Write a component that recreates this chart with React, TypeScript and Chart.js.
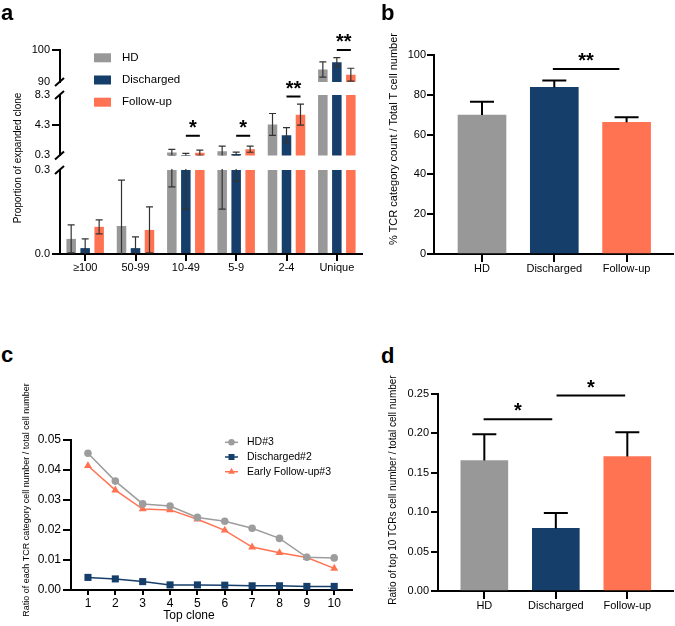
import React, { useEffect, useRef } from 'react';
import { Chart, registerables } from 'chart.js';
Chart.register(...registerables);

const FONT = "'Liberation Sans', Arial, Helvetica, sans-serif";
Chart.defaults.font.family = FONT;
Chart.defaults.color = '#000';

const GRAY = '#989898';
const NAVY = '#163e6b';
const CORAL = '#ff7353';

// ---------- Panel a data ----------
const aCategories = ['≥100', '50-99', '10-49', '5-9', '2-4', 'Unique'];
const aSeries = ['HD', 'Discharged', 'Follow-up'];
const aHD = [0.054, 0.1, 0.67, 0.85, 4.4, 93.9];
const aHDsd = [0.05, 0.164, 0.43, 0.69, 1.45, 2.4];
const aDis = [0.021, 0.021, 0.36, 0.5, 2.98, 96.2];
const aDisSd = [0.033, 0.04, 0.2, 0.24, 1.0, 1.4];
const aFol = [0.097, 0.086, 0.66, 1.12, 5.7, 92.3];
const aFolSd = [0.025, 0.082, 0.34, 0.4, 1.4, 2.0];
const aLowTicks = [0, 0.3];
const aLowTickLabels = ['0.0', '0.3'];
const aMidTicks = [0.3, 4.3, 8.3];
const aMidTickLabels = ['0.3', '4.3', '8.3'];
const aTopTicks = [90, 100];
const aTopTickLabels = ['90', '100'];
const aSigCategories = ['10-49', '5-9', '2-4', 'Unique'];
const aSigLevels = [2.9, 2.9, 8.1, 100];
const aSigLabels = ['*', '*', '**', '**'];

// ---------- Panel b data ----------
const bCategories = ['HD', 'Discharged', 'Follow-up'];
const bMeans = [69.8, 83.7, 66.2];
const bSd = [6.7, 3.5, 2.5];
const bTicks = [0, 20, 40, 60, 80, 100];
const bTickLabels = ['0', '20', '40', '60', '80', '100'];
const bSigFrom = [0.98];
const bSigTo = [1.9];
const bSigLevels = [93];
const bSigLabels = ['**'];

// ---------- Panel c data ----------
const cClones = [1, 2, 3, 4, 5, 6, 7, 8, 9, 10];
const cSeries = ['HD#3', 'Discharged#2', 'Early Follow-up#3'];
const cHD = [0.0456, 0.0363, 0.0287, 0.028, 0.0242, 0.0229, 0.0206, 0.0172, 0.0109, 0.0107];
const cDis = [0.0042, 0.0037, 0.0028, 0.0017, 0.0017, 0.0016, 0.0014, 0.0014, 0.0012, 0.0012];
const cFol = [0.0414, 0.0333, 0.027, 0.0267, 0.0236, 0.0199, 0.0143, 0.0124, 0.0108, 0.0072];
const cTicks = [0, 0.01, 0.02, 0.03, 0.04, 0.05];
const cTickLabels = ['0.00', '0.01', '0.02', '0.03', '0.04', '0.05'];

// ---------- Panel d data ----------
const dCategories = ['HD', 'Discharged', 'Follow-up'];
const dMeans = [0.1655, 0.0794, 0.1706];
const dSd = [0.0335, 0.0195, 0.031];
const dTicks = [0, 0.05, 0.1, 0.15, 0.2, 0.25];
const dTickLabels = ['0.00', '0.05', '0.10', '0.15', '0.20', '0.25'];
const dSigFrom = [-0.01, 1.01];
const dSigTo = [0.95, 1.97];
const dSigLevels = [0.218, 0.248];
const dSigLabels = ['*', '*'];

// ---------- helpers ----------
function baseOptions(padding: any) {
  return {
    responsive: false,
    maintainAspectRatio: false,
    animation: false,
    devicePixelRatio: 1,
    events: [],
    layout: { padding },
    plugins: { legend: { display: false }, tooltip: { enabled: false }, title: { display: false } },
  };
}

function valueAxis(o: any) {
  const breaks: number[] = o.breaks || [];
  return {
    type: 'linear',
    min: o.min,
    max: o.max,
    beginAtZero: false,
    afterBuildTicks: (s: any) => {
      s.ticks = o.ticks.map((v: number) => ({ value: v }));
    },
    afterFit: (s: any) => {
      s.width = o.width;
    },
    ticks: {
      callback: (_v: any, i: number) => o.labels[i],
      font: { family: FONT, size: o.size },
      color: '#000',
      padding: o.padding,
      autoSkip: false,
    },
    grid: {
      display: true,
      drawOnChartArea: false,
      drawTicks: true,
      tickLength: o.tickLength,
      tickWidth: 2,
      lineWidth: 2,
      tickColor: (c: any) =>
        c.tick && breaks.some((b) => Math.abs(b - c.tick.value) < 1e-9) ? 'rgba(0,0,0,0)' : '#000',
    },
    border: { display: true, color: '#000', width: 2 },
  };
}

function linearIndexAxis(o: any) {
  return {
    type: 'linear',
    min: o.min,
    max: o.max,
    offset: false,
    afterBuildTicks: (s: any) => {
      s.ticks = o.values.map((v: number) => ({ value: v }));
    },
    afterFit: (s: any) => {
      s.height = o.height;
    },
    ticks: {
      callback: (_v: any, i: number) => o.labels[i],
      font: { family: FONT, size: o.size },
      color: '#000',
      padding: o.padding,
      autoSkip: false,
      maxRotation: 0,
    },
    grid: {
      display: true,
      offset: false,
      drawOnChartArea: false,
      drawTicks: true,
      tickLength: o.tickLength,
      tickWidth: 2,
      lineWidth: 2,
      tickColor: '#000',
    },
    border: { display: true, color: '#000', width: 2 },
  };
}

function errorBarPlugin(sds: number[][], both: boolean, color: string, width: number, cap: number) {
  return {
    id: 'errBars',
    afterDatasetsDraw(chart: any) {
      const { ctx, chartArea: a } = chart;
      const y = chart.scales.y;
      ctx.save();
      ctx.beginPath();
      ctx.rect(a.left, a.top - 1, a.right - a.left, a.bottom - a.top + 1);
      ctx.clip();
      ctx.strokeStyle = color;
      ctx.lineWidth = width;
      chart.data.datasets.forEach((ds: any, i: number) => {
        const meta = chart.getDatasetMeta(i);
        meta.data.forEach((el: any, j: number) => {
          const raw = ds.data[j];
          const v = typeof raw === 'number' ? raw : raw.y;
          const s = sds[i][j];
          const top = v + s;
          const bottom = both ? v - s : v;
          if (top <= y.min || bottom >= y.max) return;
          const hi = y.getPixelForValue(top);
          const lo = y.getPixelForValue(bottom);
          ctx.beginPath();
          ctx.moveTo(el.x, lo);
          ctx.lineTo(el.x, hi);
          ctx.moveTo(el.x - cap / 2, hi);
          ctx.lineTo(el.x + cap / 2, hi);
          if (both) {
            ctx.moveTo(el.x - cap / 2, lo);
            ctx.lineTo(el.x + cap / 2, lo);
          }
          ctx.stroke();
        });
      });
      ctx.restore();
    },
  };
}

function drawSig(ctx: any, x1: number, x2: number, py: number, label: string) {
  ctx.save();
  ctx.strokeStyle = '#000';
  ctx.lineWidth = 2;
  ctx.beginPath();
  ctx.moveTo(x1, py);
  ctx.lineTo(x2, py);
  ctx.stroke();
  ctx.fillStyle = '#000';
  ctx.font = `bold 20px ${FONT}`;
  ctx.textAlign = 'center';
  ctx.textBaseline = 'alphabetic';
  ctx.fillText(label, (x1 + x2) / 2, py - 2);
  ctx.restore();
}

function sigBarsPlugin(min: number, max: number) {
  return {
    id: 'sigA',
    afterDraw(chart: any) {
      const y = chart.scales.y;
      aSigCategories.forEach((cat, k) => {
        const lvl = aSigLevels[k];
        if (lvl < min || lvl > max) return;
        const idx = aCategories.indexOf(cat);
        const x1 = chart.getDatasetMeta(1).data[idx].x;
        const x2 = chart.getDatasetMeta(2).data[idx].x;
        drawSig(chart.ctx, x1, x2, y.getPixelForValue(lvl), aSigLabels[k]);
      });
    },
  };
}

function sigLinearPlugin(from: number[], to: number[], levels: number[], labels: string[]) {
  return {
    id: 'sigL',
    afterDraw(chart: any) {
      const x = chart.scales.x;
      const y = chart.scales.y;
      levels.forEach((lvl, k) => {
        drawSig(chart.ctx, x.getPixelForValue(from[k]), x.getPixelForValue(to[k]), y.getPixelForValue(lvl), labels[k]);
      });
    },
  };
}

function breakPlugin(top: boolean, bottom: boolean) {
  return {
    id: 'brk',
    afterDraw(chart: any) {
      const { ctx, chartArea: a } = chart;
      ctx.save();
      ctx.strokeStyle = '#000';
      ctx.lineWidth = 2;
      const ys: number[] = [];
      if (top) ys.push(a.top);
      if (bottom) ys.push(a.bottom);
      ys.forEach((yy) => {
        ctx.beginPath();
        ctx.moveTo(a.left - 5, yy + 4);
        ctx.lineTo(a.left + 4, yy - 4);
        ctx.stroke();
      });
      ctx.restore();
    },
  };
}

const legendAPlugin = {
  id: 'legA',
  afterDraw(chart: any) {
    const { ctx, chartArea: a } = chart;
    ctx.save();
    chart.data.datasets.forEach((ds: any, i: number) => {
      const cy = a.top + 7.8 + i * 22.2;
      ctx.fillStyle = ds.legendColor;
      ctx.fillRect(a.left + 34, cy - 4.5, 17, 9);
      ctx.fillStyle = '#000';
      ctx.font = `11.5px ${FONT}`;
      ctx.textAlign = 'left';
      ctx.textBaseline = 'middle';
      ctx.fillText(ds.label, a.left + 62, cy);
    });
    ctx.restore();
  },
};

function drawMarker(ctx: any, style: string, x: number, y: number, r: number) {
  ctx.beginPath();
  if (style === 'rect') {
    const s = r * Math.SQRT1_2;
    ctx.rect(x - s, y - s, 2 * s, 2 * s);
  } else if (style === 'triangle') {
    for (let k = 0; k < 3; k++) {
      const ang = (k * 2 * Math.PI) / 3;
      const px = x + Math.sin(ang) * r;
      const py = y - Math.cos(ang) * r;
      if (k === 0) ctx.moveTo(px, py);
      else ctx.lineTo(px, py);
    }
    ctx.closePath();
  } else {
    ctx.arc(x, y, r, 0, Math.PI * 2);
  }
  ctx.fill();
}

const legendCPlugin = {
  id: 'legC',
  afterDraw(chart: any) {
    const { ctx, chartArea: a } = chart;
    ctx.save();
    chart.data.datasets.forEach((ds: any, i: number) => {
      const cy = a.top + 2.3 + i * 14.7;
      const x0 = a.left + 154;
      const x1 = a.left + 167;
      ctx.strokeStyle = ds.borderColor;
      ctx.lineWidth = 1.5;
      ctx.beginPath();
      ctx.moveTo(x0, cy);
      ctx.lineTo(x1, cy);
      ctx.stroke();
      ctx.fillStyle = ds.pointBackgroundColor;
      drawMarker(ctx, ds.pointStyle, (x0 + x1) / 2, cy, ds.pointRadius * 0.85);
      ctx.fillStyle = '#000';
      ctx.font = `10.5px ${FONT}`;
      ctx.textAlign = 'left';
      ctx.textBaseline = 'middle';
      ctx.fillText(ds.label, a.left + 176, cy);
    });
    ctx.restore();
  },
};

// ---------- chart configs ----------
const aSegments = [
  { min: 0, max: 0.3, ticks: aLowTicks, labels: aLowTickLabels, breaks: [0.3], top: 160, height: 120, pad: { top: 10, right: 13, bottom: 0, left: 10 }, showX: true, brTop: true, brBottom: false, legend: false },
  { min: 0.3, max: 8.3, ticks: aMidTicks, labels: aMidTickLabels, breaks: [0.3, 8.3], top: 70, height: 94, pad: { top: 25, right: 13, bottom: 8, left: 10 }, showX: false, brTop: true, brBottom: true, legend: false },
  { min: 90, max: 100, ticks: aTopTicks, labels: aTopTickLabels, breaks: [90], top: 20, height: 95, pad: { top: 30, right: 13, bottom: 33, left: 10 }, showX: false, brTop: false, brBottom: true, legend: true },
];

function makeA(seg: any) {
  return () => {
    const opts: any = baseOptions(seg.pad);
    opts.datasets = { bar: { categoryPercentage: 0.834, barPercentage: 0.68, inflateAmount: 0 } };
    const xAxis: any = {
      type: 'category',
      display: seg.showX,
      offset: true,
      ticks: { font: { family: FONT, size: 11 }, color: '#000', padding: 0, autoSkip: false, maxRotation: 0 },
      grid: { display: true, offset: false, drawOnChartArea: false, drawTicks: true, tickLength: 7, tickWidth: 2, lineWidth: 2, tickColor: '#000' },
      border: { display: true, color: '#000', width: 2 },
    };
    if (seg.showX) {
      xAxis.afterFit = (s: any) => {
        s.height = 26;
      };
    }
    opts.scales = {
      x: xAxis,
      y: valueAxis({ min: seg.min, max: seg.max, ticks: seg.ticks, labels: seg.labels, width: 50, tickLength: 8, padding: 2, size: 11, breaks: seg.breaks }),
    };
    const plugins: any[] = [
      errorBarPlugin([aHDsd, aDisSd, aFolSd], true, '#333', 1.2, 7),
      breakPlugin(seg.brTop, seg.brBottom),
      sigBarsPlugin(seg.min, seg.max),
    ];
    if (seg.legend) plugins.push(legendAPlugin);
    const fill = (color: string) => (c: any) => (typeof c.raw === 'number' && c.raw <= seg.min ? 'rgba(0,0,0,0)' : color);
    const mkDs = (label: string, data: number[], color: string) => ({
      label,
      data,
      legendColor: color,
      backgroundColor: fill(color),
      clip: 0,
      inflateAmount: 0,
    });
    return {
      type: 'bar',
      data: {
        labels: aCategories,
        datasets: [mkDs(aSeries[0], aHD, GRAY), mkDs(aSeries[1], aDis, NAVY), mkDs(aSeries[2], aFol, CORAL)],
      },
      options: opts,
      plugins,
    };
  };
}

function makeB() {
  const opts: any = baseOptions({ top: 55, right: 2, bottom: 0, left: 54 });
  opts.scales = {
    x: linearIndexAxis({ min: -0.664, max: 2.642, values: bCategories.map((_, i) => i), labels: bCategories, height: 36, tickLength: 8, padding: 0, size: 11 }),
    y: valueAxis({ min: 0, max: 100, ticks: bTicks, labels: bTickLabels, width: 40, tickLength: 7, padding: 1, size: 11 }),
  };
  return {
    type: 'bar',
    data: {
      datasets: [
        {
          data: bCategories.map((_, i) => ({ x: i, y: bMeans[i] })),
          backgroundColor: [GRAY, NAVY, CORAL],
          barThickness: 48,
        },
      ],
    },
    options: opts,
    plugins: [errorBarPlugin([bSd], false, '#000', 2, 24), sigLinearPlugin(bSigFrom, bSigTo, bSigLevels, bSigLabels)],
  };
}

function makeC() {
  const opts: any = baseOptions({ top: 60, right: 8, bottom: 0, left: 26 });
  opts.scales = {
    x: linearIndexAxis({ min: 0.38, max: 10.65, values: cClones, labels: cClones.map(String), height: 36, tickLength: 5, padding: 1, size: 12 }),
    y: valueAxis({ min: 0, max: 0.05, ticks: cTicks, labels: cTickLabels, width: 45, tickLength: 8, padding: 2, size: 12 }),
  };
  const mk = (label: string, vals: number[], color: string, style: string, r: number) => ({
    label,
    data: cClones.map((x, i) => ({ x, y: vals[i] })),
    borderColor: color,
    backgroundColor: color,
    pointBackgroundColor: color,
    pointBorderColor: color,
    pointBorderWidth: 0,
    pointStyle: style,
    pointRadius: r,
    borderWidth: 1.5,
    tension: 0,
    clip: false,
  });
  return {
    type: 'line',
    data: {
      datasets: [
        mk(cSeries[0], cHD, '#9d9d9d', 'circle', 3.8),
        mk(cSeries[1], cDis, NAVY, 'rect', 5),
        mk(cSeries[2], cFol, CORAL, 'triangle', 4.6),
      ],
    },
    options: opts,
    plugins: [legendCPlugin],
  };
}

function makeD() {
  const opts: any = baseOptions({ top: 14, right: 2, bottom: 0, left: 58 });
  opts.scales = {
    x: linearIndexAxis({ min: -0.648, max: 2.639, values: dCategories.map((_, i) => i), labels: dCategories, height: 35, tickLength: 8, padding: 0, size: 11 }),
    y: valueAxis({ min: 0, max: 0.25, ticks: dTicks, labels: dTickLabels, width: 40, tickLength: 7, padding: 2, size: 11 }),
  };
  return {
    type: 'bar',
    data: {
      datasets: [
        {
          data: dCategories.map((_, i) => ({ x: i, y: dMeans[i] })),
          backgroundColor: [GRAY, NAVY, CORAL],
          barThickness: 47,
        },
      ],
    },
    options: opts,
    plugins: [errorBarPlugin([dSd], false, '#000', 2, 24), sigLinearPlugin(dSigFrom, dSigTo, dSigLevels, dSigLabels)],
  };
}

function ChartCanvas({ left, top, width, height, make }: any) {
  const ref = useRef<HTMLCanvasElement>(null);
  useEffect(() => {
    const chart = new Chart(ref.current as any, make());
    return () => chart.destroy();
  }, []);
  return (
    <canvas
      ref={ref}
      width={width}
      height={height}
      style={{ position: 'absolute', left, top, width, height }}
    />
  );
}

function Letter({ x, baseline, children }: any) {
  return (
    <div
      style={{
        position: 'absolute',
        left: x,
        top: baseline - 18.6,
        fontSize: 22,
        lineHeight: '22px',
        fontWeight: 'bold',
        fontFamily: FONT,
        color: '#000',
      }}
    >
      {children}
    </div>
  );
}

function Label({ cx, cy, size, rotate, children }: any) {
  return (
    <div
      style={{
        position: 'absolute',
        left: cx,
        top: cy,
        transform: rotate ? 'translate(-50%,-50%) rotate(-90deg)' : 'translate(-50%,-50%)',
        fontSize: size,
        lineHeight: 1,
        whiteSpace: 'nowrap',
        fontFamily: FONT,
        color: '#000',
      }}
    >
      {children}
    </div>
  );
}

export default function App() {
  return (
    <div
      style={{
        position: 'fixed',
        left: 0,
        top: 0,
        width: 675,
        height: 626,
        background: '#fff',
        overflow: 'hidden',
        fontFamily: FONT,
      }}
    >
      {aSegments.map((seg, i) => (
        <ChartCanvas key={i} left={0} top={seg.top} width={375} height={seg.height} make={makeA(seg)} />
      ))}
      <ChartCanvas left={340} top={0} width={335} height={290} make={makeB} />
      <ChartCanvas left={0} top={380} width={360} height={246} make={makeC} />
      <ChartCanvas left={340} top={380} width={335} height={246} make={makeD} />

      <Letter x={1} baseline={21}>a</Letter>
      <Letter x={381} baseline={21}>b</Letter>
      <Letter x={1} baseline={363}>c</Letter>
      <Letter x={381} baseline={364}>d</Letter>

      <Label cx={18} cy={157.5} size={10} rotate>Proportion of expanded clone</Label>
      <Label cx={393} cy={139} size={11} rotate>% TCR category count / Total T cell number</Label>
      <Label cx={26} cy={500} size={9} rotate>Ratio of each TCR category cell number / total cell number</Label>
      <Label cx={393} cy={490} size={10} rotate>Ratio of top 10 TCRs cell number / total cell number</Label>
      <Label cx={189} cy={615} size={12}>Top clone</Label>
    </div>
  );
}
